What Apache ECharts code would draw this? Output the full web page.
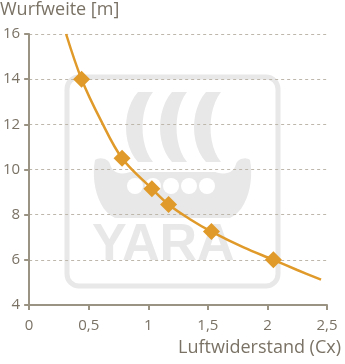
<!DOCTYPE html>
<html><head><meta charset="utf-8">
<script src="https://cdn.jsdelivr.net/npm/echarts@6/dist/echarts.min.js"></script>
<style>html,body{margin:0;padding:0;background:#fff}#c{width:345px;height:364px}</style>
</head><body><div id="c"></div>
<script>
const yTitle = 'Wurfweite [m]';
const xTitle = 'Luftwiderstand (Cx)';
const markerX = [0.44, 0.78, 1.03, 1.17, 1.53, 2.05];
const markerY = [14.0, 10.5, 9.15, 8.45, 7.25, 6.0];
const curveX = [0.31, 0.44, 0.6, 0.78, 1.03, 1.17, 1.35, 1.53, 1.8, 2.05, 2.25, 2.45];
const curveY = [16.0, 14.0, 12.2, 10.5, 9.15, 8.45, 7.8, 7.25, 6.55, 6.0, 5.55, 5.12];

const txt = '#7a7265', axisC = '#9a9283', gridC = '#bdb6aa', orange = '#e09a2a', wm = '#e8e8e8';
const font = 'Open Sans';

// watermark helper: sample simple path (M/L/C) into polygon points
function pts(segs) {
  const out = []; let cur = null;
  segs.forEach(s => {
    if (s[0] === 'M' || s[0] === 'L') { cur = [s[1], s[2]]; out.push(cur); }
    else if (s[0] === 'C') {
      const p0 = cur, p1 = [s[1], s[2]], p2 = [s[3], s[4]], p3 = [s[5], s[6]];
      for (let k = 1; k <= 12; k++) {
        const t = k / 12, u = 1 - t;
        out.push([u*u*u*p0[0] + 3*u*u*t*p1[0] + 3*u*t*t*p2[0] + t*t*t*p3[0],
                  u*u*u*p0[1] + 3*u*u*t*p1[1] + 3*u*t*t*p2[1] + t*t*t*p3[1]]);
      }
      cur = p3;
    }
  });
  return out;
}
function arcShape(x) {
  return pts([['M', x, 92], ['L', x + 15, 92], ['C', x + 1, 110, x + 1, 145, x + 15, 162], ['L', x, 162], ['C', x - 16, 145, x - 16, 110, x, 92]]);
}
const boat = pts([['M', 95, 160], ['C', 100, 157, 108, 158, 110, 164], ['C', 112, 172, 120, 176, 130, 172], ['L', 215, 172],
  ['C', 226, 176, 234, 172, 236, 164], ['C', 238, 158, 246, 157, 250, 160], ['C', 254, 180, 248, 210, 230, 218], ['L', 115, 218],
  ['C', 97, 210, 91, 180, 95, 160]]);

const graphics = [
  {type: 'rect', z: -10, shape: {x: 67, y: 77, width: 211, height: 209, r: 12}, style: {fill: 'none', stroke: wm, lineWidth: 5}},
  {type: 'polygon', z: -10, shape: {points: arcShape(138)}, style: {fill: wm}},
  {type: 'polygon', z: -10, shape: {points: arcShape(172)}, style: {fill: wm}},
  {type: 'polygon', z: -10, shape: {points: arcShape(206)}, style: {fill: wm}},
  {type: 'polygon', z: -10, shape: {points: boat}, style: {fill: wm}}
];
[135, 153, 171, 189, 207].forEach(cx => graphics.push({type: 'circle', z: -9, shape: {cx: cx, cy: 186, r: 8}, style: {fill: '#fff'}}));
graphics.push({type: 'text', z: -10, left: 92, top: 220, style: {text: 'YARA', fill: wm, font: 'bold 52px "Liberation Sans", Arial'}});
graphics.push({type: 'text', left: 0, top: 1, style: {text: yTitle, fill: txt, font: '18px "' + font + '"'}});
graphics.push({type: 'text', right: 4, top: 339, style: {text: xTitle, fill: txt, font: '18px "' + font + '"'}});

const chart = echarts.init(document.getElementById('c'));
chart.setOption({
  animation: false,
  grid: {left: 27, right: 18, top: 34, bottom: 59},
  xAxis: {type: 'value', min: 0, max: 2.5, interval: 0.5,
    axisLine: {lineStyle: {color: axisC, width: 2}},
    axisTick: {show: true, length: 5, lineStyle: {color: axisC, width: 2}},
    splitLine: {show: false},
    axisLabel: {color: txt, fontSize: 15, fontFamily: font, margin: 13,
      formatter: v => String(v).replace('.', ',')}},
  yAxis: {type: 'value', min: 4, max: 16, interval: 2,
    axisLine: {show: true, lineStyle: {color: axisC, width: 2}},
    axisTick: {show: true, length: 5, lineStyle: {color: axisC, width: 2}},
    splitLine: {show: true, lineStyle: {color: gridC, type: [3, 3], width: 1}},
    axisLabel: {color: txt, fontSize: 15, fontFamily: font, margin: 9}},
  graphic: graphics,
  series: [
    {type: 'line', data: curveX.map((x, i) => [x, curveY[i]]), smooth: 0.35, showSymbol: false,
      lineStyle: {color: orange, width: 2.5}, z: 2},
    {type: 'scatter', data: markerX.map((x, i) => [x, markerY[i]]), symbol: 'diamond', symbolSize: [17, 17],
      itemStyle: {color: orange, opacity: 1}, z: 3}
  ]
});
</script></body></html>
